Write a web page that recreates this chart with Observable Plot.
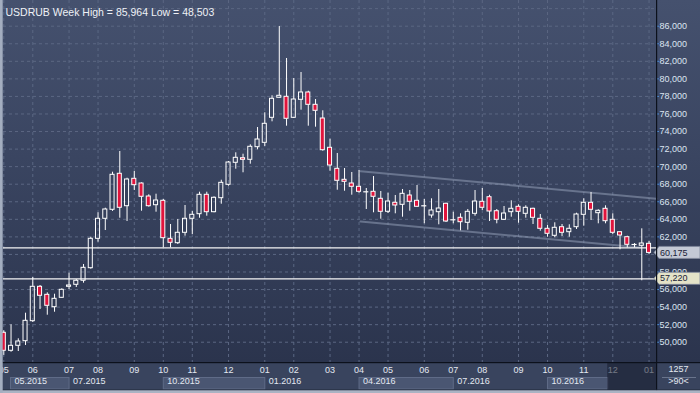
<!DOCTYPE html>
<html><head><meta charset="utf-8">
<script src="https://cdn.jsdelivr.net/npm/d3@7"></script>
<script src="https://cdn.jsdelivr.net/npm/@observablehq/plot@0.6"></script>
<style>
html,body{margin:0;padding:0;background:#39445e;}
#chart{width:700px;height:393px;overflow:hidden;}
svg{display:block}
</style></head><body><div id="chart"></div>
<script>
// Weekly USDRUB candles (bar index 0..89)
const opens  = [51072,49022,49591,50115,52395,56312,55400,53988,55059,56312,56540,57000,58432,61780,64059,65085,69186,65494,68616,68081,66600,65608,66110,61780,61280,62465,64059,64583,66794,64812,66406,67933,70439,70963,70780,72216,72717,75564,77844,77958,75564,77616,78447,77046,75486,72148,69755,68502,68081,67705,67135,67135,66338,64856,65882,65653,66714,66110,65540,64435,64811,65768,63945,64173,63603,64628,65996,66520,64925,63945,64811,65427,64628,65199,64059,62920,62123,63102,62533,63102,64514,65882,64697,65199,63945,62533,61965,61132,60985,61210];
const highs  = [51300,51983,50389,53306,57372,56460,55628,55469,56084,57862,57144,58853,61965,64742,65267,69368,71726,68684,69448,68157,66794,66862,66258,63410,63980,65574,64890,67090,67090,66566,68456,70587,71578,71419,72489,74460,76135,78072,85964,82321,80042,80726,78596,77650,76363,73127,71499,69790,69334,69562,67512,68878,67169,66976,66714,67397,67283,67853,66258,66338,67397,65836,64810,64628,65119,67283,67511,66748,65119,65461,66110,65654,65541,65268,64549,63296,63604,63410,63376,64697,66338,67056,65085,65541,64628,62612,62077,61245,62920,61473];
const lows   = [48503,48862,48942,49626,52245,53726,53076,53418,55020,56004,56233,56723,58318,61394,62726,64900,64127,63752,67283,64925,65381,64812,60755,60755,61132,62078,62270,64127,64355,64742,65722,67771,69710,69300,70280,71920,72296,75109,77800,74608,75486,76431,74608,74494,71760,69482,67317,67203,66748,66976,65119,64742,64013,64663,64628,64241,64924,65381,63490,64127,63376,63638,63490,62692,62760,64355,65005,63752,63490,63867,64241,63558,64127,63410,62646,61965,61895,62042,61965,62840,63216,63866,63490,63490,62270,60529,60745,60755,57000,60005];
const closes = [49022,49591,50081,52439,56312,55287,54147,54945,55970,56460,57000,58477,61780,64059,65119,69072,65313,68536,67888,66566,65494,66144,61850,61325,62465,64059,64514,66794,64812,66452,68157,70473,71008,70780,72261,73093,74882,77730,78072,75452,77650,78447,77046,76363,71875,70131,68388,68274,67705,67135,67135,66566,64856,66030,65574,66907,65996,65427,65540,65005,65233,63752,63945,63672,64856,66030,65313,64890,63945,64663,65199,64856,65313,64173,62920,62351,63034,62465,62920,64549,65882,65085,64970,63786,62465,62156,61097,61132,61245,60175];

// Time-axis labels (bar index where each month / quarter begins)
const monthBars   = [0,4,9,13,18,22,26,31,36,40,45,49,53,58,62,66,71,75,80,84,89];
const monthLabels = ["05","06","07","08","09","10","11","12","01","02","03","04","05","06","07","08","09","10","11","12","01"];
const quarterStarts = [0.93,9,22,36,49,62,75];
const quarterEnds   = [9,22,36,49,62,75,83.3];
const quarterLabels = ["05.2015","07.2015","10.2015","01.2016","04.2016","07.2016","10.2016"];
const shadedFromBar = 83.3;

// Price axis (60,000 sits under the bid-price box)
const yTicks = [50000,52000,54000,56000,58000,62000,64000,66000,68000,70000,72000,74000,76000,78000,80000,82000,84000,86000];
const yGrid  = [50000,52000,54000,56000,58000,60000,62000,64000,66000,68000,70000,72000,74000,76000,78000,80000,82000,84000,86000,88000];

// Drawing objects
const supportLevel = 60746;
const lineLevel = 57220;
const bidPrice = 60175;
const channelUpperBars = [49.2, 90.0];
const channelUpperVals = [69480, 66350];
const channelLowerBars = [49.2, 87.8];
const channelLowerVals = [63750, 60790];

const titleText = "USDRUB Week High = 85,964 Low = 48,503";
const barsShown = "1257";
const zoomText = ">90<";

const candles = opens.map((o, i) => ({i, o, h: highs[i], l: lows[i], c: closes[i]}));
const doji = candles.filter(d => Math.abs(d.o - d.c) < 40);
const bodies = candles.filter(d => Math.abs(d.o - d.c) >= 40);
const up = channelUpperBars.map((b, k) => ({b, v: channelUpperVals[k]}));
const lo = channelLowerBars.map((b, k) => ({b, v: channelLowerVals[k]}));
const fmt = d3.format(",");

function stripBg(index, {x}, values, dims) {
  const g = d3.create("svg:g");
  const top = dims.height - dims.marginBottom;
  g.append("rect").attr("x", 0).attr("y", top).attr("width", dims.width).attr("height", dims.marginBottom).attr("fill", "#39445e");
  quarterStarts.forEach((s, k) => {
    if (k % 2 === 0) {
      g.append("rect").attr("x", x(s) + 0.5).attr("y", top + 15.5)
        .attr("width", x(quarterEnds[k]) - x(s)).attr("height", 11.5)
        .attr("fill", "#4a5672").attr("stroke", "#5f6b87");
    }
  });
  return g.node();
}
function stripOverlay(index, {x}, values, dims) {
  const g = d3.create("svg:g");
  const top = dims.height - dims.marginBottom;
  const right = dims.width - dims.marginRight;
  g.append("rect").attr("x", x(shadedFromBar)).attr("y", top + 1).attr("width", right - x(shadedFromBar)).attr("height", dims.marginBottom - 4)
    .attr("fill", "#161c2c").attr("fill-opacity", 0.55);
  g.append("rect").attr("x", 0).attr("y", top).attr("width", dims.width).attr("height", 1.2).attr("fill", "#0c111c");
  g.append("rect").attr("x", right).attr("y", 0).attr("width", 1.2).attr("height", dims.height).attr("fill", "#0c111c");
  g.append("line").attr("x1", right + 6).attr("x2", dims.width - 4).attr("y1", top + 15.5).attr("y2", top + 15.5).attr("stroke", "#69748c");
  g.append("rect").attr("x", 0).attr("y", dims.height - 3.5).attr("width", dims.width).attr("height", 1).attr("fill", "#222a3b");
  g.append("rect").attr("x", 0).attr("y", dims.height - 2.7).attr("width", dims.width).attr("height", 2.7).attr("fill", "#aab3c3");
  g.append("rect").attr("x", 0).attr("y", 0).attr("width", 2.7).attr("height", dims.height).attr("fill", "#a4aec0");
  return g.node();
}
function priceBoxes(index, {y}, values, dims) {
  const g = d3.create("svg:g");
  const x0 = dims.width - dims.marginRight;
  [{v: bidPrice, fill: "#c4c9d5"}, {v: lineLevel, fill: "#e4e3c8"}].forEach(b => {
    const yy = y(b.v);
    g.append("path").attr("d", `M${x0 - 2},${yy} L${x0 + 3},${yy - 6} H${dims.width} V${yy + 6} H${x0 + 3} Z`)
      .attr("fill", b.fill).attr("stroke", "#7f889c").attr("stroke-width", 0.8);
    g.append("text").attr("x", x0 + 4).attr("y", yy).attr("dy", "0.35em").attr("text-anchor", "start")
      .attr("fill", "#1a2238").text(fmt(b.v));
  });
  return g.node();
}

const chart = Plot.plot({
  width: 700, height: 393,
  marginTop: 0, marginBottom: 31, marginLeft: 3, marginRight: 44,
  style: {background: "linear-gradient(180deg, #45516e 0%, #3a4561 40%, #2b344d 92%)", fontFamily: "'Liberation Sans', Arial, sans-serif", fontSize: "9px", color: "#dfe5ef"},
  x: {type: "linear", domain: [-0.04, 90.03], axis: null},
  y: {domain: [47689, 88928], axis: null},
  marks: [
    Plot.ruleY(yGrid, {stroke: "#5b6783", strokeDasharray: "3,3", strokeWidth: 1}),
    Plot.ruleX(monthBars, {stroke: "#5b6783", strokeDasharray: "3,3", strokeWidth: 1}),
    Plot.line(up, {x: "b", y: "v", stroke: "#9aa5bd", strokeWidth: 2, strokeOpacity: 0.5}),
    Plot.line(lo, {x: "b", y: "v", stroke: "#9aa5bd", strokeWidth: 2, strokeOpacity: 0.5}),
    Plot.ruleY([supportLevel, lineLevel], {stroke: "#f4f4f4", strokeWidth: 1.2}),
    Plot.ruleX(candles, {x: "i", y1: "h", y2: d => Math.max(d.o, d.c), stroke: "#ffffff", strokeWidth: 1}),
    Plot.ruleX(candles, {x: "i", y1: d => Math.min(d.o, d.c), y2: "l", stroke: "#ffffff", strokeWidth: 1}),
    Plot.rect(bodies.filter(d => d.c < d.o), {x1: d => d.i - 0.28, x2: d => d.i + 0.28, y1: "o", y2: "c", fill: "#e0143c", stroke: "#ffffff", strokeWidth: 1}),
    Plot.rect(bodies.filter(d => d.c >= d.o), {x1: d => d.i - 0.28, x2: d => d.i + 0.28, y1: "o", y2: "c", fill: "none", stroke: "#ffffff", strokeWidth: 1}),
    Plot.ruleY(doji, {x1: d => d.i - 0.35, x2: d => d.i + 0.35, y: "o", stroke: "#ffffff", strokeWidth: 1.2}),
    Plot.axisY(yTicks, {anchor: "right", tickSize: 2, tickPadding: 1, tickFormat: fmt, stroke: "#4f8bd0", fill: "#dde5f1", label: null}),
    priceBoxes,
    stripBg,
    Plot.text(monthBars, {x: d => d, text: (d, i) => monthLabels[i], frameAnchor: "bottom", dy: 10, fill: "#e3e8f1"}),
    Plot.text(quarterStarts, {x: d => d, text: (d, i) => quarterLabels[i], frameAnchor: "bottom", dy: 21.5, dx: 4, textAnchor: "start", fill: "#e3e8f1"}),
    stripOverlay,
    Plot.text([barsShown], {frameAnchor: "bottom-right", dx: 22, dy: 9.5, textAnchor: "middle", fill: "#e3e8f1"}),
    Plot.text([zoomText], {frameAnchor: "bottom-right", dx: 22, dy: 21.5, textAnchor: "middle", fill: "#e3e8f1"}),
    Plot.text([titleText], {frameAnchor: "top-left", dx: 2, dy: 8, textAnchor: "start", fill: "#eef1f6", fontSize: 10.5})
  ]
});
document.getElementById("chart").appendChild(chart);
</script>
</body></html>
